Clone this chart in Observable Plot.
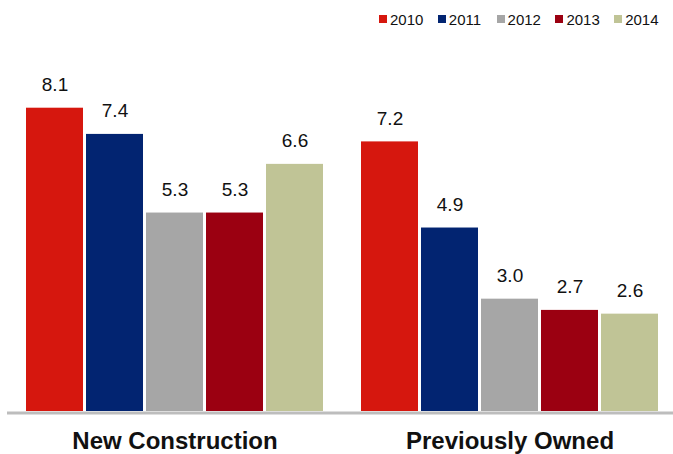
<!DOCTYPE html>
<html>
<head>
<meta charset="utf-8">
<script src="https://cdn.jsdelivr.net/npm/d3@7"></script>
<script src="https://cdn.jsdelivr.net/npm/@observablehq/plot@0.6"></script>
<style>
  html, body { margin: 0; padding: 0; background: #fff; }
  body { width: 673px; font-family: "Liberation Sans", Arial, Helvetica, sans-serif; }
  #legend { height: 38px; display: flex; align-items: center; padding-left: 379px; box-sizing: border-box; }
  .item { display: flex; align-items: center; width: 59.8px; font-size: 15px; color: #111; }
  .sw { width: 8px; height: 8px; margin-right: 3px; }
</style>
</head>
<body>
<div id="legend"></div>
<div id="chart"></div>
<script>
const groups = ["New Construction", "Previously Owned"];
const years = ["2010", "2011", "2012", "2013", "2014"];
const newConstruction = [8.1, 7.4, 5.3, 5.3, 6.6];
const previouslyOwned = [7.2, 4.9, 3.0, 2.7, 2.6];
const colors = ["#D6170E", "#022471", "#A6A6A6", "#9B0011", "#C0C496"];

const seriesByGroup = [newConstruction, previouslyOwned];
const data = [];
groups.forEach((g, gi) => {
  years.forEach((y, yi) => data.push({group: g, year: y, value: seriesByGroup[gi][yi]}));
});

const legend = document.getElementById("legend");
years.forEach((y, i) => {
  const item = document.createElement("div");
  item.className = "item";
  const sw = document.createElement("span");
  sw.className = "sw";
  sw.style.background = colors[i];
  const t = document.createElement("span");
  t.textContent = y;
  item.appendChild(sw);
  item.appendChild(t);
  legend.appendChild(item);
});

const chart = Plot.plot({
  width: 673,
  height: 416,
  marginLeft: 24,
  marginRight: 13,
  marginTop: 36,
  marginBottom: 43,
  style: {fontFamily: "'Liberation Sans', Arial, Helvetica, sans-serif", background: "#fff"},
  fx: {domain: groups, paddingInner: 0.1015, paddingOuter: 0, label: null},
  x: {domain: years, paddingInner: 0.05, paddingOuter: 0, axis: null},
  y: {domain: [0, 9], axis: null},
  color: {domain: years, range: colors},
  marks: [
    Plot.barY(data, {fx: "group", x: "year", y: "value", fill: "year"}),
    Plot.ruleY([0], {stroke: "#bdbdbd", strokeWidth: 3, dy: 1.5, insetLeft: -17, insetRight: -17}),
    Plot.text(data, {fx: "group", x: "year", y: "value", text: d => d.value.toFixed(1), dy: -17, lineAnchor: "bottom", fontSize: 19, fill: "#111"}),
    Plot.axisFx({anchor: "bottom", tickSize: 0, tickPadding: 20, fontSize: 24, fontWeight: "bold", label: null, fill: "#111"})
  ]
});
document.getElementById("chart").appendChild(chart);
</script>
</body>
</html>
